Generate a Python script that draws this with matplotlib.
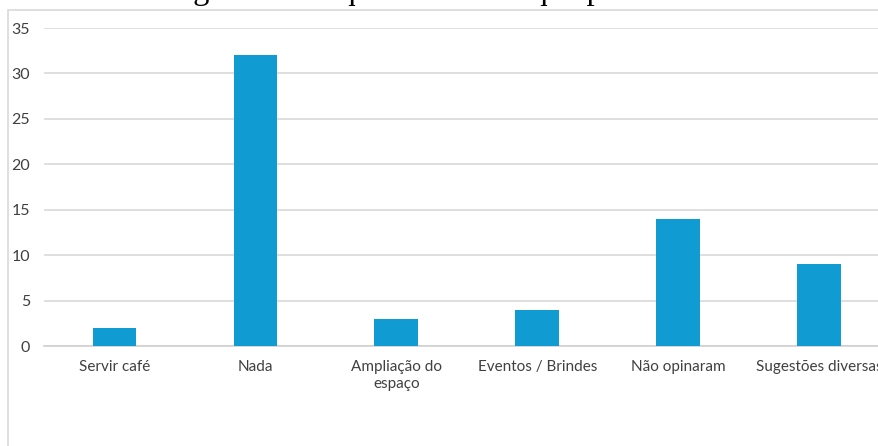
import matplotlib.pyplot as plt
from matplotlib.patches import Rectangle

categorias = ["Servir café", "Nada", "Ampliação do\nespaço", "Eventos / Brindes",
              "Não opinaram", "Sugestões diversas"]
respostas = [2, 32, 3, 4, 14, 9]
y_ticks = [0, 5, 10, 15, 20, 25, 30, 35]

plt.rcParams['font.family'] = ['Lato', 'DejaVu Sans']

fig = plt.figure(figsize=(8.79, 4.46), dpi=100)

# moldura do gráfico (cortada à direita e embaixo)
fig.patches.append(Rectangle((8 / 879, -0.1), 1.0, 1 - 10 / 446 + 0.1,
                             transform=fig.transFigure, fill=False,
                             edgecolor='#d9d9d9', linewidth=1.2))

# título da figura, parcialmente cortado no topo
fig.text(495 / 879, 1 + 1.5 / 446, "Figura 11: O que você acha que poderia melhorar?",
         family='Liberation Serif', fontsize=23.4, ha='center', va='baseline',
         color='black')

ax = fig.add_axes([44 / 879, 100 / 446, 845.5 / 879, 318 / 446])
x = range(len(categorias))
ax.bar(x, respostas, width=0.31, color='#119bd3', zorder=3)

ax.set_xlim(-0.5, len(categorias) - 0.5)
ax.set_ylim(0, 35)
ax.set_yticks(y_ticks)
ax.set_xticks(list(x))
ax.set_xticklabels(categorias, fontsize=11, color='#404040')
ax.tick_params(axis='y', labelsize=11.5, labelcolor='#404040', length=0, pad=10)
ax.tick_params(axis='x', length=0, pad=10)
for lbl in ax.get_xticklabels():
    lbl.set_linespacing(1.3)

ax.grid(axis='y', color='#d9d9d9', linewidth=1.2, zorder=0)
for s in ['top', 'right', 'left']:
    ax.spines[s].set_visible(False)
ax.spines['bottom'].set_color('#d0d0d0')
ax.spines['bottom'].set_linewidth(1.2)
ax.patch.set_alpha(0)

fig.savefig("out.png", dpi=100)
